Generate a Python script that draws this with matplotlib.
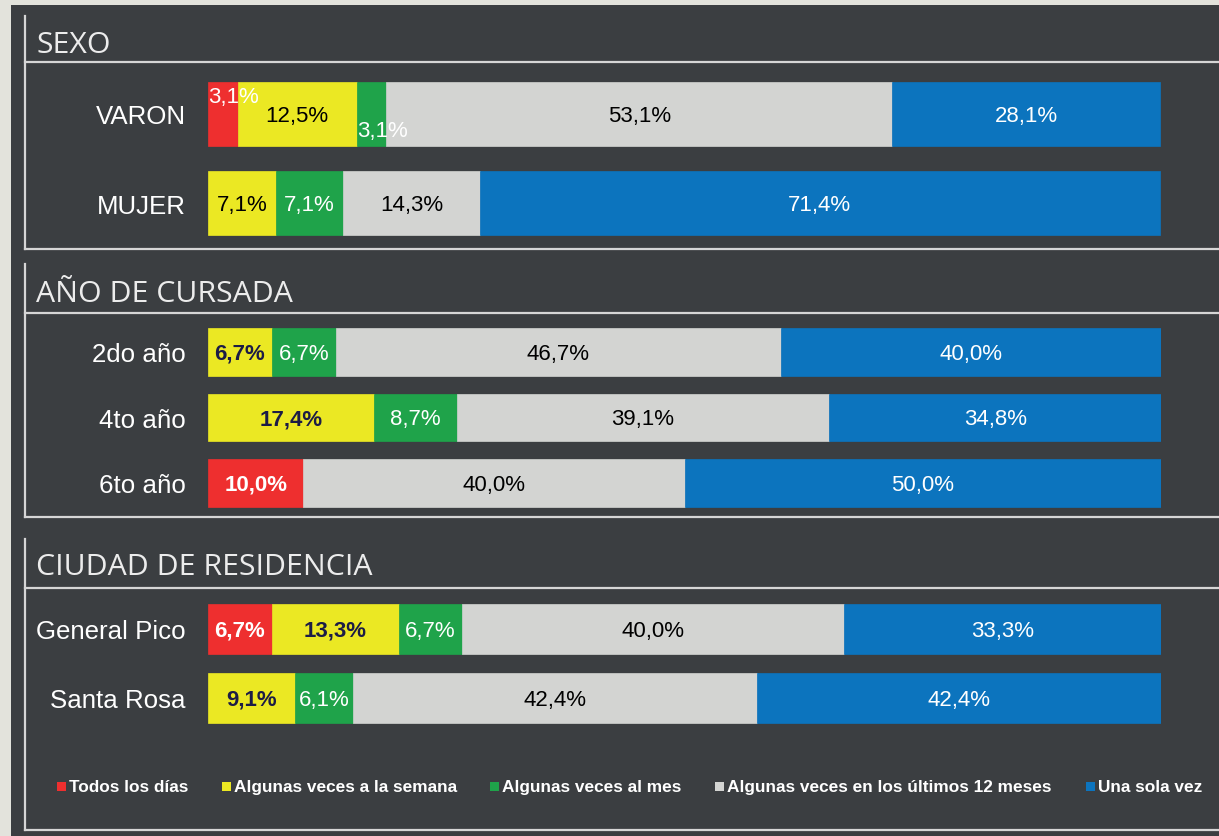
import matplotlib
import matplotlib.pyplot as plt
from matplotlib.lines import Line2D
from matplotlib.patches import Rectangle

matplotlib.use('Agg')

# categorias de frecuencia (orden de apilado)
categorias = ['Todos los días', 'Algunas veces a la semana', 'Algunas veces al mes',
              'Algunas veces en los últimos 12 meses', 'Una sola vez']
colores = ['#ee2f2f', '#ebe823', '#1fa34a', '#d3d4d2', '#0c74be']

sexo_grupos = ['VARON', 'MUJER']
sexo_valores = [
    [3.1, 12.5, 3.1, 53.1, 28.1],
    [0.0, 7.1, 7.1, 14.3, 71.4],
]

anio_grupos = ['2do año', '4to año', '6to año']
anio_valores = [
    [0.0, 6.7, 6.7, 46.7, 40.0],
    [0.0, 17.4, 8.7, 39.1, 34.8],
    [10.0, 0.0, 0.0, 40.0, 50.0],
]

ciudad_grupos = ['General Pico', 'Santa Rosa']
ciudad_valores = [
    [6.7, 13.3, 6.7, 40.0, 33.3],
    [0.0, 9.1, 6.1, 42.4, 42.4],
]

W, H = 1219, 837
BG = '#3b3e41'
LINE = '#d6d6d6'
NAVY = '#1c1c46'

fig = plt.figure(figsize=(W / 100, H / 100), dpi=100)
fig.patch.set_facecolor('#e3e3dc')
fig.add_artist(Rectangle((11 / W, 0), 1 - 11 / W, 1 - 6 / H, transform=fig.transFigure,
                         facecolor=BG, edgecolor='none', zorder=0))


def fx(x):
    return x / W


def fy(y):
    return 1 - y / H


def hline(y, x0=25, x1=W):
    fig.add_artist(Line2D([fx(x0), fx(x1)], [fy(y), fy(y)], transform=fig.transFigure,
                          color=LINE, lw=1.6))


def vline(x, y0, y1):
    fig.add_artist(Line2D([fx(x), fx(x)], [fy(y0), fy(y1)], transform=fig.transFigure,
                          color=LINE, lw=1.6))


def seccion(titulo, t_base, top, line_y, bottom):
    vline(25, top, bottom)
    hline(line_y)
    hline(bottom)
    fig.text(fx(36), fy(t_base), titulo, family='Open Sans', fontsize=21.8,
             color='#ececec', va='baseline', ha='left')


def barras(grupos, valores, centro, paso, negrita):
    n = len(grupos)
    alto = n * paso
    ax = fig.add_axes([fx(208), fy(centro + alto / 2), fx(1161) - fx(208), alto / H])
    ax.set_facecolor('none')
    ax.set_xlim(0, 100)
    ax.set_ylim(n - 0.5, -0.5)
    for s in ax.spines.values():
        s.set_visible(False)
    ax.set_xticks([])
    ax.set_yticks(range(n))
    ax.set_yticklabels(grupos, family='Liberation Sans', fontsize=18.6, color='white')
    ax.tick_params(axis='y', length=0, pad=16)

    for i, fila in enumerate(valores):
        izq = 0.0
        chicos = 0
        for k, v in enumerate(fila):
            if v <= 0:
                continue
            ax.barh(i, v, left=izq, height=0.72, color=colores[k],
                    edgecolor=colores[k], linewidth=0.5)
            txt = f'{v:.1f}'.replace('.', ',') + '%'
            peso = 'normal'
            col = 'white'
            if k in (1, 3):
                col = 'black'
            if negrita and k in (0, 1):
                peso = 'bold'
                if k == 1:
                    col = NAVY
            if v < 5:
                dy = -0.2 if chicos % 2 == 0 else 0.19
                chicos += 1
                ax.text(izq, i + dy, txt, ha='left', va='center', color='white',
                        family='Liberation Sans', fontsize=16, fontweight=peso)
            else:
                ax.text(izq + v / 2, i + 0.02, txt, ha='center', va='center', color=col,
                        family='Liberation Sans', fontsize=16, fontweight=peso)
            izq += v
    return ax


seccion('SEXO', 53, 17, 63, 250)
barras(sexo_grupos, sexo_valores, 159.5, 89, False)

seccion('AÑO DE CURSADA', 302, 265, 314, 518)
barras(anio_grupos, anio_valores, 418.5, 65.5, True)

seccion('CIUDAD DE RESIDENCIA', 575, 540, 589, 831)
barras(ciudad_grupos, ciudad_valores, 664.5, 69, True)

# leyenda
ley_x = [57, 222, 490, 715, 1086]
for x, nombre, c in zip(ley_x, categorias, colores):
    fig.add_artist(Rectangle((fx(x), fy(792)), 9 / W, 9 / H, transform=fig.transFigure,
                             facecolor=c, edgecolor='none'))
    fig.text(fx(x + 12), fy(788), nombre, family='Liberation Sans', fontsize=12.4,
             fontweight='bold', color='white', ha='left', va='center')

fig.savefig('out.png', dpi=100, facecolor=fig.get_facecolor())
